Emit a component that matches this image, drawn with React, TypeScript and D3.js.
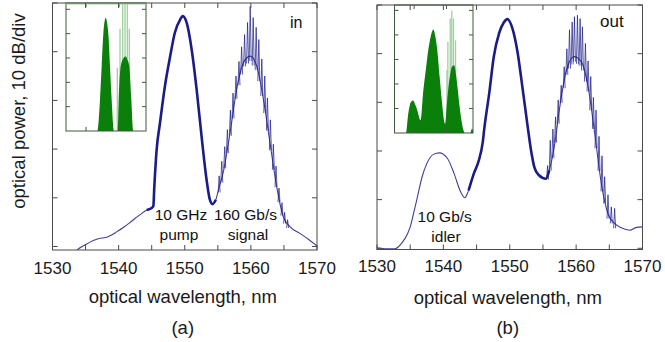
import React from 'react';
import * as d3 from 'd3';

// ---------- data ----------
const wlMajorTicks = [1530, 1540, 1550, 1560, 1570];
const wlMinorTicks = [1535, 1545, 1555, 1565];
const dbTicks = [0, 10, 20, 30, 40, 50];
const insetYTicks = [1, 2, 3, 4, 5];
const insetXTicks = [1540, 1556.5];

// panel (a) "in": wavelength (nm), relative power (dB)
const curveA: [number, number][] = [
  [1533.0, -2], [1533.75, -0.7], [1534.9, 0.3], [1535.8, 1.0], [1536.7, 1.5], [1537.5, 1.75],
  [1538.2, 1.9], [1539.0, 2.4], [1539.7, 3.0], [1540.7, 3.9], [1541.7, 4.9], [1542.5, 5.8],
  [1543.2, 6.5], [1544.25, 7.5], [1545.0, 7.9], [1545.25, 8.3], [1545.4, 12.3], [1545.75, 19.9],
  [1546.25, 25.3], [1547.0, 32.9], [1547.8, 39.1], [1548.5, 43.9], [1549.3, 46.6], [1549.7, 47.3],
  [1550.3, 45.9], [1551.05, 40.4], [1551.8, 32.2], [1552.6, 21.9], [1553.3, 13.7], [1553.8, 9.6],
  [1554.2, 8.7], [1554.7, 9.6], [1555.1, 11.6], [1555.8, 15.1], [1556.85, 23.3], [1557.85, 32.2],
  [1558.85, 37.7], [1559.9, 39.1], [1560.9, 37.0], [1561.9, 30.2], [1562.9, 21.2], [1563.9, 12.3],
  [1564.9, 6.1], [1565.9, 4.1], [1567.4, 2.7], [1568.7, 1.5], [1570, 0.1],
];
const spikesA: [number, number][] = [
  [1555.2, 14.5], [1555.6, 17.5], [1556.05, 20.5], [1556.45, 24], [1556.9, 28], [1557.3, 31.5],
  [1557.75, 35], [1558.2, 38], [1558.6, 41], [1559.05, 43.5], [1559.5, 46], [1559.9, 49.3],
  [1560.35, 47], [1560.8, 45], [1561.2, 42.5], [1561.65, 38.5], [1562.1, 35], [1562.5, 30.5],
  [1562.95, 26], [1563.4, 21], [1563.8, 16.5], [1564.25, 12], [1564.7, 9], [1565.1, 7], [1565.55, 5.5],
];
const thickA: [number, number][] = [[1543.3, 1554.9]];

// panel (b) "out"
const curveB: [number, number][] = [
  [1530, 0.1], [1531.5, -0.1], [1532.7, -0.1], [1533.7, 1.0], [1534.6, 3.0], [1535.0, 4.4],
  [1535.5, 7.1], [1536.1, 10.6], [1536.8, 14.7], [1537.5, 17.4], [1538.5, 19.3], [1539.4, 19.6],
  [1540.6, 18.5], [1541.6, 15.4], [1542.6, 11.6], [1543.25, 10.4], [1543.8, 11.9], [1544.6, 15.4],
  [1545.35, 18.1], [1545.9, 21.5], [1546.2, 25], [1546.9, 31.8], [1547.6, 39.4], [1548.4, 44.2],
  [1549.1, 46.4], [1549.65, 47.1], [1550.4, 45.2], [1551.2, 40.1], [1551.9, 33.2], [1552.7, 25],
  [1553.2, 20.2], [1553.7, 16.7], [1554.4, 15.0], [1555.45, 14.3], [1555.95, 16.0], [1556.7, 20.8],
  [1557.7, 30.5], [1558.7, 37.3], [1559.7, 39.4], [1560.8, 38.3], [1561.8, 33.2], [1562.8, 23.6],
  [1563.8, 13.3], [1564.8, 7.1], [1565.8, 5.1], [1566.8, 4.2], [1568.1, 3.7], [1569.1, 4.3], [1570, 4.4],
];
const spikesB: [number, number][] = [
  [1555.7, 17], [1556.1, 22.2], [1556.5, 24.5], [1556.9, 27], [1557.3, 30.5], [1557.75, 33.5],
  [1558.2, 37.3], [1558.6, 41], [1559.0, 44.9], [1559.4, 46.5], [1559.75, 47.6], [1560.2, 47.9],
  [1560.6, 47.2], [1560.95, 45.5], [1561.4, 42.1], [1561.8, 38.5], [1562.2, 35.3], [1562.6, 31],
  [1563.0, 28.4], [1563.45, 23], [1563.9, 19], [1564.3, 14.7], [1564.8, 11], [1565.3, 8.5], [1565.8, 8.2],
];
const thickB: [number, number][] = [[1543.8, 1556.3]];

// insets: wavelength (nm), linear power (a.u.)
const insetA: [number, number][] = [
  [1530, 0], [1545.67, 0], [1547.0, 1.28], [1547.83, 2.65], [1548.67, 4.0], [1549.83, 4.64],
  [1551.17, 4.0], [1552.0, 2.65], [1552.83, 1.28], [1554.0, 0], [1555.83, 0], [1556.33, 1.28],
  [1557.33, 2.65], [1558.67, 2.98], [1559.83, 3.06], [1560.83, 2.9], [1561.67, 2.65],
  [1562.67, 1.28], [1563.67, 0], [1570, 0],
];
const insetCombA: [number, number][] = [
  [1555.65, 2.6], [1557.0, 4.2], [1558.35, 5.4], [1559.5, 5.4], [1560.65, 5.4], [1561.65, 4.2],
];
const insetB: [number, number][] = [
  [1530, 0], [1535.8, 0], [1537.0, 0.79], [1538.3, 1.25], [1539.5, 1.33], [1540.6, 1.15],
  [1541.6, 0.93], [1543.3, 0.52], [1544.7, 1.74], [1546.0, 2.6], [1547.2, 3.38], [1548.5, 3.95],
  [1549.8, 4.22], [1550.8, 3.95], [1551.8, 3.38], [1553.0, 2.3], [1554.1, 1.33], [1555.8, 0.38],
  [1556.6, 1.1], [1557.5, 1.88], [1558.4, 2.4], [1559.2, 2.69], [1560.4, 2.76], [1561.3, 2.4],
  [1562.1, 1.88], [1563.3, 1.0], [1564.4, 0.38], [1566.05, 0], [1568.6, 0], [1569.5, 0.18], [1570, 0.1],
];
const insetCombB: [number, number][] = [
  [1556.7, 2.56], [1557.2, 3.71], [1558.4, 4.67], [1559.2, 5.0], [1560.05, 4.67], [1561.1, 3.78],
];

// ---------- styling ----------
const FONT = "'Liberation Sans', Arial, Helvetica, sans-serif";
const NAVY = '#1c1c86';
const FRAME = '#4a4a4a';
const GREEN = '#0a7f0a';
const LIGHT_GREEN = '#9fd09f';
const INSET_FRAME = '#3f5a3f';

function interp(curve: [number, number][], wl: number): number {
  for (let i = 0; i < curve.length - 1; i++) {
    const [x0, y0] = curve[i];
    const [x1, y1] = curve[i + 1];
    if (wl >= x0 && wl <= x1) return y0 + ((wl - x0) / (x1 - x0)) * (y1 - y0);
  }
  return curve[curve.length - 1][1];
}

type InsetProps = {
  id: string;
  left: number; right: number; top: number; bottom: number;
  yMax: number;
  data: [number, number][];
  comb: [number, number][];
  greenTop?: boolean;
};

function Inset({ id, left, right, top, bottom, yMax, data, comb, greenTop }: InsetProps) {
  const x = d3.scaleLinear().domain([1530, 1570]).range([left, right]);
  const y = d3.scaleLinear().domain([0, yMax]).range([bottom, top]);
  const area = d3.area<[number, number]>()
    .x(d => x(d[0])).y0(bottom).y1(d => y(d[1]))
    .curve(d3.curveMonotoneX);
  const tl = 4;
  return (
    <g>
      <defs>
        <clipPath id={id}>
          <rect x={left} y={top} width={right - left} height={bottom - top} />
        </clipPath>
      </defs>
      <rect x={left} y={top} width={right - left} height={bottom - top} fill="white" />
      <g clipPath={`url(#${id})`}>
        {comb.map((c, i) => (
          <line key={i} x1={x(c[0])} x2={x(c[0])} y1={bottom} y2={y(c[1])}
            stroke={LIGHT_GREEN} strokeWidth={1.3} />
        ))}
        <path d={area(data) || ''} fill={GREEN} />
      </g>
      {insetYTicks.map(t => (
        <g key={t}>
          <line x1={left} x2={left + tl} y1={y(t)} y2={y(t)} stroke={INSET_FRAME} strokeWidth={1} />
          <line x1={right} x2={right - tl} y1={y(t)} y2={y(t)} stroke={INSET_FRAME} strokeWidth={1} />
        </g>
      ))}
      {insetXTicks.map(t => (
        <g key={t}>
          <line x1={x(t)} x2={x(t)} y1={top} y2={top + tl} stroke={INSET_FRAME} strokeWidth={1} />
          <line x1={x(t)} x2={x(t)} y1={bottom} y2={bottom - tl} stroke={INSET_FRAME} strokeWidth={1} />
        </g>
      ))}
      <rect x={left} y={top} width={right - left} height={bottom - top} fill="none"
        stroke={INSET_FRAME} strokeWidth={1} />
      {greenTop && (
        <line x1={left} x2={right} y1={top + 0.5} y2={top + 0.5} stroke={LIGHT_GREEN} strokeWidth={2} />
      )}
    </g>
  );
}

type PanelProps = {
  id: string;
  left: number; right: number; top: number; bottom: number;
  dbMin: number;
  curve: [number, number][];
  spikes: [number, number][];
  thick: [number, number][];
  tickLabelY: number;
  titleY: number;
  caption: string;
  children?: React.ReactNode;
};

function Panel({ id, left, right, top, bottom, dbMin, curve, spikes, thick, tickLabelY, titleY, caption, children }: PanelProps) {
  const x = d3.scaleLinear().domain([1530, 1570]).range([left, right]);
  const y = d3.scaleLinear().domain([dbMin, 50]).range([bottom, top]);
  const line = d3.line<[number, number]>().x(d => x(d[0])).y(d => y(d[1])).curve(d3.curveMonotoneX);
  const tl = 5;
  const cx = (left + right) / 2;
  return (
    <g>
      <defs>
        <clipPath id={id}>
          <rect x={left} y={top} width={right - left} height={bottom - top} />
        </clipPath>
      </defs>
      <g clipPath={`url(#${id})`}>
        <path d={line(curve) || ''} fill="none" stroke={NAVY} strokeWidth={1.1} strokeOpacity={0.85} />
        {thick.map((r, i) => (
          <path key={i}
            d={line(curve.filter(p => p[0] >= r[0] && p[0] <= r[1])) || ''}
            fill="none" stroke={NAVY} strokeWidth={2.6} strokeLinejoin="round" />
        ))}
        {spikes.map((s, i) => {
          const xs = x(s[0]);
          const yb = y(interp(curve, s[0]) - 1);
          const yt = y(s[1]);
          return (
            <path key={i} d={`M${xs - 1},${yb}L${xs},${yt}L${xs + 1},${yb}`}
              fill="none" stroke={NAVY} strokeWidth={0.9} strokeOpacity={0.8} />
          );
        })}
      </g>
      {children}
      {/* frame */}
      <rect x={left} y={top} width={right - left} height={bottom - top} fill="none" stroke={FRAME} strokeWidth={1} />
      {dbTicks.map(t => (
        <g key={t}>
          <line x1={left} x2={left + tl} y1={y(t)} y2={y(t)} stroke={FRAME} strokeWidth={1} />
          <line x1={right} x2={right - tl} y1={y(t)} y2={y(t)} stroke={FRAME} strokeWidth={1} />
        </g>
      ))}
      {[...wlMajorTicks, ...wlMinorTicks].map(t => (
        <g key={t}>
          <line x1={x(t)} x2={x(t)} y1={bottom} y2={bottom - tl} stroke={FRAME} strokeWidth={1} />
          <line x1={x(t)} x2={x(t)} y1={top} y2={top + tl} stroke={FRAME} strokeWidth={1} />
        </g>
      ))}
      {wlMajorTicks.map(t => (
        <text key={t} x={x(t)} y={tickLabelY} textAnchor="middle" fontSize={17} fill="#1a1a1a" fontFamily={FONT}>{t}</text>
      ))}
      <text x={cx - 2} y={titleY} textAnchor="middle" fontSize={18.5} fill="#1a1a1a" fontFamily={FONT}>optical wavelength, nm</text>
      <text x={cx - 2} y={334} textAnchor="middle" fontSize={18.5} fill="#1a1a1a" fontFamily={FONT}>{caption}</text>
    </g>
  );
}

export default function App() {
  const ann = { fontSize: 15.5, fill: '#111', fontFamily: FONT } as const;
  return (
    <div style={{ position: 'fixed', left: 0, top: 0, width: 665, height: 342, background: 'white' }}>
      <svg width={665} height={342} viewBox="0 0 665 342">
        <rect width={665} height={342} fill="white" />
        <Panel id="clipA" left={52.5} right={317} top={3} bottom={250} dbMin={-0.72}
          curve={curveA} spikes={spikesA} thick={thickA} tickLabelY={274} titleY={303} caption="(a)">
          <Inset id="clipIA" left={66} right={146} top={3} bottom={131} yMax={5.26}
            data={insetA} comb={insetCombA} greenTop />
        </Panel>
        <Panel id="clipB" left={377} right={642.5} top={5} bottom={249.5} dbMin={-0.25}
          curve={curveB} spikes={spikesB} thick={thickB} tickLabelY={272} titleY={304} caption="(b)">
          <Inset id="clipIB" left={394.5} right={473} top={5} bottom={133} yMax={5.22}
            data={insetB} comb={insetCombB} />
        </Panel>

        <text x={25} y={111} transform="rotate(-90 25 111)" textAnchor="middle" fontSize={18.5} fill="#1a1a1a" fontFamily={FONT}>
          optical power, 10 dB/div
        </text>

        <text x={290} y={28} fontSize={16} fill="#111" fontFamily={FONT}>in</text>
        <text x={600} y={26.5} fontSize={17} fill="#111" fontFamily={FONT}>out</text>

        <text x={181} y={220} textAnchor="middle" {...ann}>10 GHz</text>
        <text x={179} y={240} textAnchor="middle" {...ann}>pump</text>
        <text x={245.5} y={220} textAnchor="middle" {...ann}>160 Gb/s</text>
        <text x={248} y={240} textAnchor="middle" {...ann}>signal</text>
        <text x={444.7} y={222} textAnchor="middle" {...ann}>10 Gb/s</text>
        <text x={446} y={241.5} textAnchor="middle" {...ann}>idler</text>
      </svg>
    </div>
  );
}
